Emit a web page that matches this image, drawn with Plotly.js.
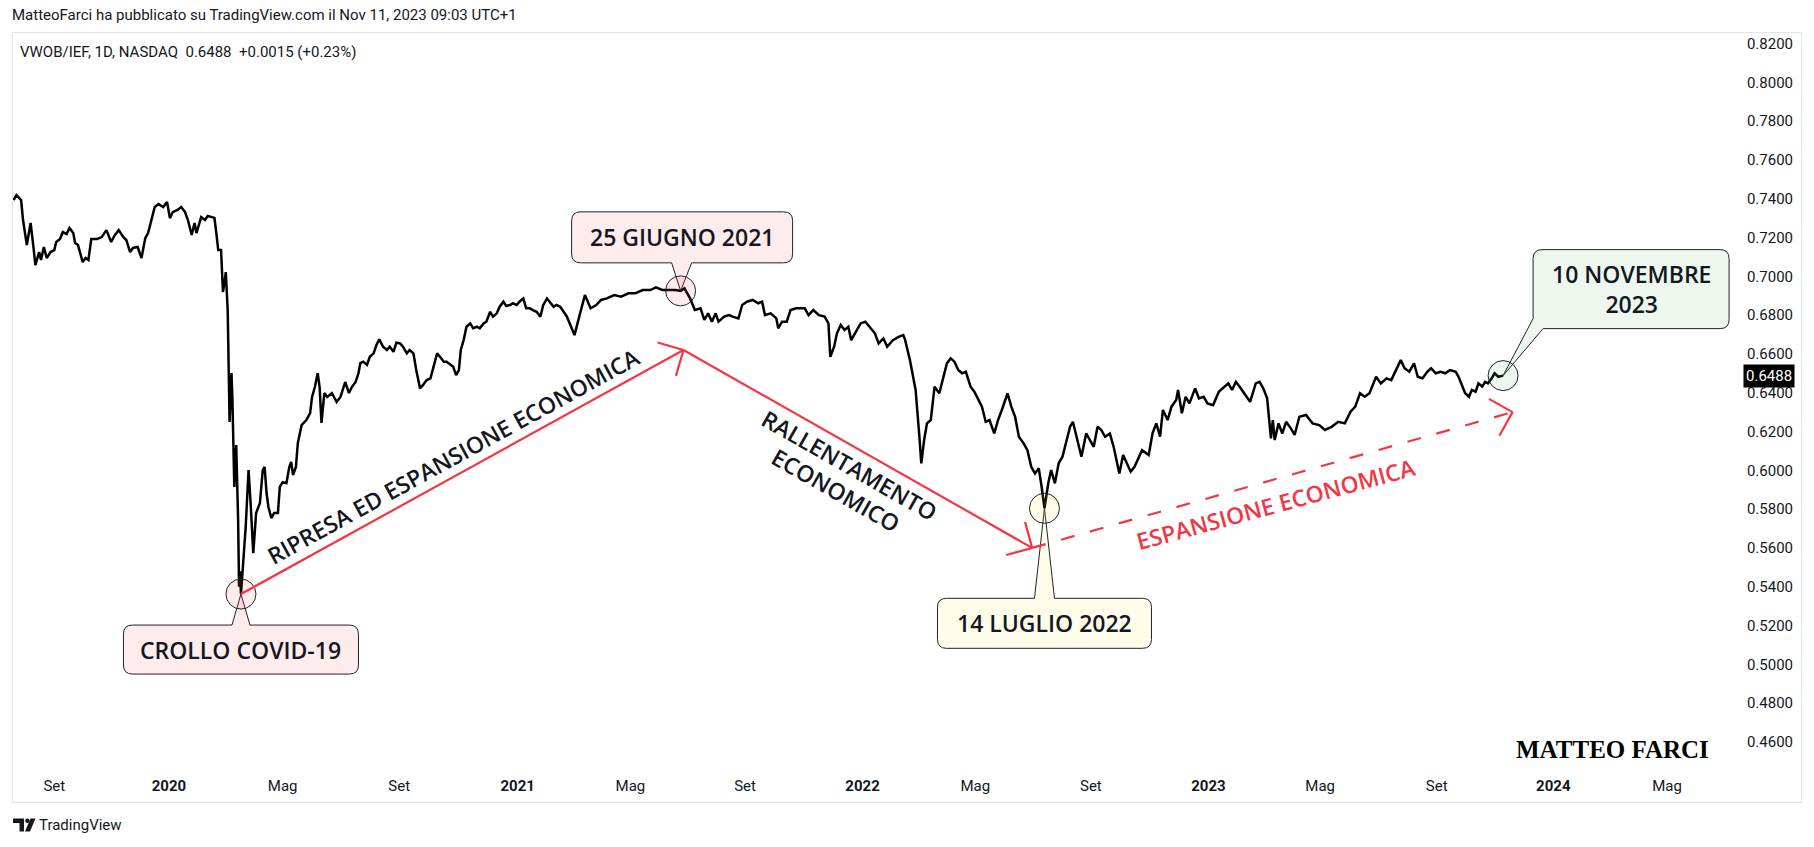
<!DOCTYPE html>
<html>
<head>
<meta charset="utf-8">
<script src="https://cdn.plot.ly/plotly-3.0.1.min.js"></script>
<style>
  html, body { margin: 0; padding: 0; background: #ffffff; }
  #chart { width: 1814px; height: 847px; }
</style>
</head>
<body>
<div id="chart"></div>
<script>
// VWOB/IEF daily ratio (sampled closes)
const closeSeries = [
  ['2019-07-22',0.7393],['2019-07-25',0.7419],['2019-07-30',0.7393],['2019-08-01',0.7290],['2019-08-05',0.7161],
  ['2019-08-09',0.7275],['2019-08-12',0.7151],['2019-08-14',0.7058],['2019-08-18',0.7125],['2019-08-20',0.7084],
  ['2019-08-23',0.7151],['2019-08-26',0.7094],['2019-08-30',0.7125],['2019-09-03',0.7135],['2019-09-05',0.7177],
  ['2019-09-09',0.7192],['2019-09-12',0.7228],['2019-09-16',0.7218],['2019-09-19',0.7249],['2019-09-23',0.7223],
  ['2019-09-25',0.7171],['2019-09-28',0.7161],['2019-10-03',0.7073],['2019-10-06',0.7094],['2019-10-09',0.7084],
  ['2019-10-12',0.7192],['2019-10-18',0.7192],['2019-10-23',0.7202],['2019-10-28',0.7238],['2019-11-02',0.7177],
  ['2019-11-06',0.7213],['2019-11-10',0.7238],['2019-11-15',0.7202],['2019-11-18',0.7187],['2019-11-22',0.7125],
  ['2019-11-25',0.7146],['2019-11-30',0.7151],['2019-12-04',0.7094],['2019-12-08',0.7197],['2019-12-11',0.7223],
  ['2019-12-15',0.7300],['2019-12-18',0.7357],['2019-12-22',0.7372],['2019-12-27',0.7357],['2019-12-31',0.7383],
  ['2020-01-03',0.7300],['2020-01-06',0.7331],['2020-01-11',0.7342],['2020-01-15',0.7357],['2020-01-19',0.7331],
  ['2020-01-22',0.7290],['2020-01-26',0.7213],['2020-01-29',0.7275],['2020-01-31',0.7223],['2020-02-05',0.7305],
  ['2020-02-09',0.7290],['2020-02-12',0.7311],['2020-02-17',0.7305],['2020-02-19',0.7301],['2020-02-21',0.7223],
  ['2020-02-23',0.7135],['2020-02-26',0.7135],['2020-02-28',0.6919],['2020-03-01',0.6981],['2020-03-02',0.7022],
  ['2020-03-04',0.6826],['2020-03-06',0.6249],['2020-03-08',0.6501],['2020-03-09',0.6362],['2020-03-11',0.5914],
  ['2020-03-13',0.6130],['2020-03-15',0.5744],['2020-03-16',0.5400],['2020-03-17',0.5480],['2020-03-18',0.5362],
  ['2020-03-23',0.5708],['2020-03-26',0.6001],['2020-03-28',0.5847],['2020-03-31',0.5573],['2020-04-03',0.5780],
  ['2020-04-07',0.5831],['2020-04-10',0.6001],['2020-04-12',0.6017],['2020-04-14',0.5883],['2020-04-16',0.5811],
  ['2020-04-19',0.5754],['2020-04-22',0.5780],['2020-04-26',0.5780],['2020-04-28',0.5914],['2020-05-01',0.5939],
  ['2020-05-05',0.5934],['2020-05-08',0.6017],['2020-05-10',0.6043],['2020-05-12',0.5976],['2020-05-15',0.6017],
  ['2020-05-17',0.6140],['2020-05-21',0.6233],['2020-05-26',0.6259],['2020-05-30',0.6295],['2020-06-01',0.6378],
  ['2020-06-04',0.6429],['2020-06-07',0.6501],['2020-06-09',0.6429],['2020-06-11',0.6244],['2020-06-14',0.6398],
  ['2020-06-17',0.6378],['2020-06-22',0.6398],['2020-06-27',0.6352],['2020-07-01',0.6378],['2020-07-06',0.6455],
  ['2020-07-10',0.6398],['2020-07-13',0.6429],['2020-07-17',0.6455],['2020-07-20',0.6501],['2020-07-22',0.6553],
  ['2020-07-25',0.6560],['2020-07-29',0.6543],['2020-08-01',0.6585],['2020-08-05',0.6603],['2020-08-08',0.6646],
  ['2020-08-11',0.6675],['2020-08-15',0.6637],['2020-08-19',0.6620],['2020-08-22',0.6637],['2020-08-26',0.6611],
  ['2020-08-29',0.6658],['2020-09-02',0.6654],['2020-09-05',0.6637],['2020-09-09',0.6603],['2020-09-12',0.6620],
  ['2020-09-16',0.6603],['2020-09-19',0.6517],['2020-09-23',0.6422],['2020-09-26',0.6439],['2020-09-30',0.6465],
  ['2020-10-04',0.6474],['2020-10-07',0.6526],['2020-10-11',0.6603],['2020-10-14',0.6585],['2020-10-18',0.6560],
  ['2020-10-21',0.6560],['2020-10-25',0.6543],['2020-10-28',0.6534],['2020-10-31',0.6491],['2020-11-03',0.6517],
  ['2020-11-05',0.6620],['2020-11-08',0.6671],['2020-11-11',0.6740],['2020-11-15',0.6757],['2020-11-18',0.6732],
  ['2020-11-22',0.6740],['2020-11-25',0.6732],['2020-11-29',0.6757],['2020-12-02',0.6766],['2020-12-06',0.6817],
  ['2020-12-09',0.6792],['2020-12-13',0.6809],['2020-12-16',0.6843],['2020-12-20',0.6869],['2020-12-23',0.6847],
  ['2020-12-27',0.6852],['2020-12-30',0.6861],['2021-01-03',0.6852],['2021-01-06',0.6869],['2021-01-10',0.6886],
  ['2021-01-13',0.6835],['2021-01-17',0.6835],['2021-01-20',0.6826],['2021-01-24',0.6817],['2021-01-28',0.6792],
  ['2021-01-31',0.6852],['2021-02-04',0.6886],['2021-02-07',0.6869],['2021-02-11',0.6843],['2021-02-14',0.6852],
  ['2021-02-18',0.6843],['2021-02-25',0.6792],['2021-03-05',0.6697],['2021-03-10',0.6792],['2021-03-16',0.6903],
  ['2021-03-22',0.6835],['2021-03-28',0.6852],['2021-04-02',0.6878],['2021-04-08',0.6886],['2021-04-16',0.6903],
  ['2021-04-23',0.6895],['2021-05-01',0.6912],['2021-05-08',0.6912],['2021-05-16',0.6929],['2021-05-24',0.6929],
  ['2021-05-30',0.6943],['2021-06-06',0.6929],['2021-06-13',0.6929],['2021-06-19',0.6929],['2021-06-25',0.6925],
  ['2021-06-29',0.6938],['2021-07-05',0.6886],['2021-07-10',0.6826],['2021-07-16',0.6835],['2021-07-20',0.6775],
  ['2021-07-24',0.6809],['2021-07-28',0.6766],['2021-08-01',0.6809],['2021-08-04',0.6766],['2021-08-10',0.6792],
  ['2021-08-15',0.6800],['2021-08-19',0.6792],['2021-08-25',0.6783],['2021-08-29',0.6852],['2021-09-03',0.6869],
  ['2021-09-09',0.6878],['2021-09-15',0.6861],['2021-09-19',0.6869],['2021-09-22',0.6800],['2021-09-28',0.6809],
  ['2021-10-04',0.6783],['2021-10-06',0.6732],['2021-10-10',0.6766],['2021-10-15',0.6766],['2021-10-19',0.6826],
  ['2021-10-25',0.6835],['2021-10-31',0.6835],['2021-11-03',0.6835],['2021-11-07',0.6800],['2021-11-12',0.6826],
  ['2021-11-18',0.6800],['2021-11-24',0.6792],['2021-11-28',0.6757],['2021-11-30',0.6585],['2021-12-04',0.6637],
  ['2021-12-07',0.6706],['2021-12-11',0.6749],['2021-12-15',0.6723],['2021-12-19',0.6740],['2021-12-22',0.6671],
  ['2021-12-26',0.6706],['2022-01-01',0.6757],['2022-01-06',0.6766],['2022-01-10',0.6740],['2022-01-16',0.6706],
  ['2022-01-20',0.6654],['2022-01-25',0.6680],['2022-01-29',0.6637],['2022-02-04',0.6671],['2022-02-10',0.6688],
  ['2022-02-15',0.6697],['2022-02-17',0.6671],['2022-02-22',0.6568],['2022-02-26',0.6465],['2022-02-28',0.6414],
  ['2022-03-04',0.6173],['2022-03-06',0.6036],['2022-03-09',0.6156],['2022-03-12',0.6242],['2022-03-16',0.6259],
  ['2022-03-18',0.6362],['2022-03-20',0.6431],['2022-03-25',0.6397],['2022-03-29',0.6482],['2022-04-02',0.6551],
  ['2022-04-06',0.6577],['2022-04-10',0.6560],['2022-04-14',0.6517],['2022-04-18',0.6500],['2022-04-22',0.6508],
  ['2022-04-27',0.6431],['2022-05-01',0.6405],['2022-05-05',0.6362],['2022-05-09',0.6328],['2022-05-13',0.6250],
  ['2022-05-17',0.6259],['2022-05-22',0.6190],['2022-05-26',0.6259],['2022-05-30',0.6311],['2022-06-03',0.6362],
  ['2022-06-05',0.6397],['2022-06-09',0.6328],['2022-06-13',0.6276],['2022-06-17',0.6173],['2022-06-22',0.6139],
  ['2022-06-26',0.6104],['2022-06-30',0.6018],['2022-07-04',0.5984],['2022-07-08',0.6010],['2022-07-11',0.5915],
  ['2022-07-14',0.5804],['2022-07-18',0.5933],['2022-07-21',0.6001],['2022-07-25',0.5933],['2022-07-29',0.6036],
  ['2022-08-02',0.6070],['2022-08-06',0.6156],['2022-08-10',0.6225],['2022-08-13',0.6250],['2022-08-17',0.6173],
  ['2022-08-22',0.6070],['2022-08-27',0.6190],['2022-08-31',0.6156],['2022-09-04',0.6121],['2022-09-08',0.6225],
  ['2022-09-12',0.6208],['2022-09-16',0.6173],['2022-09-21',0.6190],['2022-09-25',0.6121],['2022-09-29',0.6018],
  ['2022-10-01',0.5984],['2022-10-05',0.6079],['2022-10-09',0.6036],['2022-10-13',0.5993],['2022-10-17',0.6018],
  ['2022-10-21',0.6062],['2022-10-25',0.6104],['2022-11-01',0.6079],['2022-11-05',0.6190],['2022-11-09',0.6242],
  ['2022-11-13',0.6173],['2022-11-16',0.6311],['2022-11-21',0.6259],['2022-11-25',0.6328],['2022-11-30',0.6362],
  ['2022-12-02',0.6414],['2022-12-06',0.6294],['2022-12-10',0.6379],['2022-12-14',0.6345],['2022-12-20',0.6422],
  ['2022-12-24',0.6371],['2022-12-29',0.6379],['2023-01-02',0.6345],['2023-01-08',0.6336],['2023-01-14',0.6405],
  ['2023-01-20',0.6431],['2023-01-24',0.6448],['2023-01-28',0.6414],['2023-02-01',0.6456],['2023-02-05',0.6431],
  ['2023-02-09',0.6405],['2023-02-16',0.6353],['2023-02-22',0.6448],['2023-02-26',0.6456],['2023-03-02',0.6422],
  ['2023-03-06',0.6371],['2023-03-10',0.6165],['2023-03-12',0.6259],['2023-03-14',0.6156],['2023-03-18',0.6242],
  ['2023-03-22',0.6190],['2023-03-26',0.6250],['2023-03-31',0.6216],['2023-04-04',0.6182],['2023-04-09',0.6276],
  ['2023-04-16',0.6285],['2023-04-23',0.6242],['2023-04-30',0.6233],['2023-05-06',0.6208],['2023-05-13',0.6224],
  ['2023-05-20',0.6250],['2023-05-27',0.6242],['2023-06-02',0.6302],['2023-06-07',0.6328],['2023-06-12',0.6397],
  ['2023-06-17',0.6379],['2023-06-22',0.6397],['2023-06-29',0.6482],['2023-07-04',0.6448],['2023-07-10',0.6474],
  ['2023-07-15',0.6465],['2023-07-20',0.6517],['2023-07-25',0.6568],['2023-07-29',0.6526],['2023-08-03',0.6508],
  ['2023-08-08',0.6551],['2023-08-12',0.6482],['2023-08-17',0.6474],['2023-08-22',0.6508],['2023-08-26',0.6526],
  ['2023-08-31',0.6500],['2023-09-05',0.6508],['2023-09-10',0.6500],['2023-09-15',0.6517],['2023-09-21',0.6508],
  ['2023-09-24',0.6482],['2023-09-28',0.6431],['2023-10-01',0.6397],['2023-10-05',0.6379],['2023-10-08',0.6414],
  ['2023-10-12',0.6405],['2023-10-15',0.6448],['2023-10-19',0.6431],['2023-10-22',0.6456],['2023-10-25',0.6448],
  ['2023-10-29',0.6474],['2023-11-01',0.6500],['2023-11-05',0.6482],['2023-11-10',0.6488]
];

// Legend values
const symbolName = 'VWOB/IEF, 1D, NASDAQ';
const lastClose = 0.6488;
const lastChange = 0.0015;
const lastChangePct = 0.23;

// Time scale labels
const timeTickDates = ['2019-09-03','2020-01-02','2020-05-01','2020-09-01','2021-01-04','2021-05-03','2021-09-01',
  '2022-01-03','2022-05-02','2022-09-01','2023-01-03','2023-05-01','2023-09-01','2024-01-02','2024-05-01'];
const timeTickLabels = ['Set','2020','Mag','Set','2021','Mag','Set','2022','Mag','Set','2023','Mag','Set','2024','Mag'];

// Price scale labels
const priceTicks = [0.46,0.48,0.50,0.52,0.54,0.56,0.58,0.60,0.62,0.64,0.66,0.68,0.70,0.72,0.74,0.76,0.78,0.80,0.82];

// Marked dates
const eventDates = ['2020-03-18','2021-06-25','2022-07-14','2023-11-10'];
const eventLabels = ['CROLLO COVID-19','25 GIUGNO 2021','14 LUGLIO 2022','10 NOVEMBRE<br>2023'];

const dates = closeSeries.map(p => p[0]);
const closes = closeSeries.map(p => p[1]);
const closeOn = d => closes[dates.indexOf(d)];

const UI_FONT = 'Roboto, "Liberation Sans", Arial, sans-serif';
const NOTE_FONT = '"Open Sans", "Noto Sans", "DejaVu Sans", sans-serif';
const NOTE_SIZE = 23;
const NOTE_WEIGHT = 600;
const INK = '#131722';
const RED = '#f23645';

// page layout in pixels
const W = 1814, H = 847;
const M = {l: 13, r: 13, t: 33, b: 45};
const PW = W - M.l - M.r, PH = H - M.t - M.b;
const paperX = px => (px - M.l) / PW;
const paperY = py => 1 - (py - M.t) / PH;

// ---- callout geometry (pixel offsets from the anchored point, screen y down) ----
const R = 9;
const pt = (x, y) => x + ',' + (-y);
function boxTailTop(l, t, rr, b, ta, tb) {
  return 'M' + pt(ta, t) + ' L' + pt(0, 0) + ' L' + pt(tb, t) +
    ' L' + pt(rr - R, t) + ' Q' + pt(rr, t) + ' ' + pt(rr, t + R) +
    ' L' + pt(rr, b - R) + ' Q' + pt(rr, b) + ' ' + pt(rr - R, b) +
    ' L' + pt(l + R, b) + ' Q' + pt(l, b) + ' ' + pt(l, b - R) +
    ' L' + pt(l, t + R) + ' Q' + pt(l, t) + ' ' + pt(l + R, t) + ' Z';
}
function boxTailBottom(l, t, rr, b, ta, tb) {
  return 'M' + pt(ta, b) + ' L' + pt(0, 0) + ' L' + pt(tb, b) +
    ' L' + pt(rr - R, b) + ' Q' + pt(rr, b) + ' ' + pt(rr, b - R) +
    ' L' + pt(rr, t + R) + ' Q' + pt(rr, t) + ' ' + pt(rr - R, t) +
    ' L' + pt(l + R, t) + ' Q' + pt(l, t) + ' ' + pt(l, t + R) +
    ' L' + pt(l, b - R) + ' Q' + pt(l, b) + ' ' + pt(l + R, b) + ' Z';
}
function boxTailCorner(l, t, rr, b, ly, bx) {
  return 'M' + pt(l, ly) + ' L' + pt(0, 0) + ' L' + pt(bx, b) +
    ' L' + pt(rr - R, b) + ' Q' + pt(rr, b) + ' ' + pt(rr, b - R) +
    ' L' + pt(rr, t + R) + ' Q' + pt(rr, t) + ' ' + pt(rr - R, t) +
    ' L' + pt(l + R, t) + ' Q' + pt(l, t) + ' ' + pt(l, t + R) + ' Z';
}

const PINK = 'rgba(242,54,69,0.10)';
const CREAM = 'rgba(255,222,40,0.10)';
const MINT = 'rgba(76,175,80,0.10)';
const EDGE = '#1e222d';

const callouts = [
  {date: eventDates[0], label: eventLabels[0], fill: PINK,
   path: boxTailTop(-117.5, 31, 117.5, 80, -9, 9), dx: 0, dy: 55.5},
  {date: eventDates[1], label: eventLabels[1], fill: PINK,
   path: boxTailBottom(-109, -79, 112, -28, -9, 11), dx: 1.5, dy: -53.5},
  {date: eventDates[2], label: eventLabels[2], fill: CREAM,
   path: boxTailTop(-107, 90, 107, 140, -10, 10), dx: 0, dy: 115},
  {date: eventDates[3], label: eventLabels[3], fill: MINT,
   path: boxTailCorner(30, -126, 226, -47, -57, 40), dx: 128, dy: -87}
];

const shapes = [];
const annotations = [];

callouts.forEach(c => {
  const v = closeOn(c.date);
  shapes.push({type: 'path', xref: 'x', yref: 'y', xsizemode: 'pixel', ysizemode: 'pixel',
    xanchor: c.date, yanchor: v, path: c.path, fillcolor: c.fill,
    line: {color: EDGE, width: 1}, layer: 'above'});
  shapes.push({type: 'circle', xref: 'x', yref: 'y', xsizemode: 'pixel', ysizemode: 'pixel',
    xanchor: c.date, yanchor: v, x0: -15, x1: 15, y0: -15, y1: 15, fillcolor: c.fill,
    line: {color: EDGE, width: 1}, layer: 'above'});
  annotations.push({
    xref: 'x', yref: 'y', x: c.date, y: v, xshift: c.dx, yshift: -c.dy,
    xanchor: 'center', yanchor: 'middle', align: 'center', showarrow: false, text: c.label,
    font: {family: NOTE_FONT, size: NOTE_SIZE, color: INK, weight: NOTE_WEIGHT}
  });
});

// ---- trend arrows ----
const covidLow = {x: eventDates[0], y: closeOn(eventDates[0])};
const turnTop = {x: '2021-06-28', y: 0.6620};
const turnLow = {x: '2022-07-01', y: 0.5600};
const targetEnd = {x: '2023-11-20', y: 0.6300};

function seg(a, b, dash) {
  shapes.push({type: 'line', xref: 'x', yref: 'y', x0: a.x, y0: a.y, x1: b.x, y1: b.y,
    line: {color: RED, width: 2.2, dash: dash || 'solid'}, layer: 'above'});
}
function head(tip, wings) {
  wings.forEach(w => shapes.push({type: 'line', xref: 'x', yref: 'y', xsizemode: 'pixel', ysizemode: 'pixel',
    xanchor: tip.x, yanchor: tip.y, x0: 0, y0: 0, x1: w[0], y1: w[1],
    line: {color: RED, width: 2.2}, layer: 'above'}));
}
seg(covidLow, turnTop);
head(turnTop, [[-25.9, 7.5], [-7.5, -25.9]]);
seg(turnTop, turnLow);
head(turnLow, [[-7.1, 26], [-26, -7.1]]);
seg(turnLow, targetEnd, '14px,16px');
head(targetEnd, [[-23.6, 13.2], [-13.2, -23.6]]);

const arrowText = (x, y, text, angle, color) => annotations.push({
  xref: 'x', yref: 'y', x: x, y: y, text: text, textangle: angle, showarrow: false,
  xanchor: 'center', yanchor: 'middle',
  font: {family: NOTE_FONT, size: NOTE_SIZE, color: color, weight: NOTE_WEIGHT}
});
arrowText('2020-10-28', 0.6075, 'RIPRESA ED ESPANSIONE ECONOMICA', -28.8, INK);
arrowText('2021-12-20', 0.6027, 'RALLENTAMENTO', 29.7, INK);
arrowText('2021-12-06', 0.5901, 'ECONOMICO', 29.7, INK);
arrowText('2023-03-15', 0.5825, 'ESPANSIONE ECONOMICA', -15.2, RED);

// ---- header, legend, watermark, footer ----
annotations.push({xref: 'paper', yref: 'paper', x: paperX(10), y: paperY(15), xanchor: 'left', yanchor: 'middle',
  showarrow: false, text: 'MatteoFarci ha pubblicato su TradingView.com il Nov 11, 2023 09:03 UTC+1',
  font: {family: UI_FONT, size: 15, color: INK}});
const sign = v => (v >= 0 ? '+' : '');
annotations.push({xref: 'paper', yref: 'paper', x: paperX(18), y: paperY(52), xanchor: 'left', yanchor: 'middle',
  showarrow: false,
  text: symbolName + '\u00a0\u00a0' + lastClose.toFixed(4) + '\u00a0\u00a0' + sign(lastChange) + lastChange.toFixed(4) +
        ' (' + sign(lastChangePct) + lastChangePct.toFixed(2) + '%)',
  font: {family: UI_FONT, size: 15, color: INK}});
annotations.push({xref: 'paper', yref: 'paper', x: paperX(1612), y: paperY(749), xanchor: 'center', yanchor: 'middle',
  showarrow: false, text: 'MATTEO FARCI',
  font: {family: '"Liberation Serif", "DejaVu Serif", serif', size: 25, color: '#000000', weight: 'bold'}});
annotations.push({xref: 'paper', yref: 'y', x: 1, y: lastClose, xanchor: 'right', yanchor: 'middle', xshift: -6,
  showarrow: false, text: lastClose.toFixed(4), bgcolor: '#000000', borderpad: 2,
  font: {family: UI_FONT, size: 15, color: '#ffffff'}});
annotations.push({xref: 'paper', yref: 'paper', x: paperX(37), y: paperY(825), xanchor: 'left', yanchor: 'middle',
  showarrow: false, text: 'TradingView', font: {family: UI_FONT, size: 15, color: INK}});

// small brand mark next to the footer text
const pp = (x, y) => paperX(x).toFixed(5) + ',' + paperY(y).toFixed(5);
shapes.push({type: 'path', xref: 'paper', yref: 'paper', fillcolor: INK, line: {width: 0},
  path: 'M' + pp(13, 818.5) + ' L' + pp(24, 818.5) + ' L' + pp(24, 831.5) + ' L' + pp(19.5, 831.5) +
        ' L' + pp(19.5, 823) + ' L' + pp(13, 823) + ' Z'});
shapes.push({type: 'path', xref: 'paper', yref: 'paper', fillcolor: INK, line: {width: 0},
  path: 'M' + pp(30.5, 818.5) + ' L' + pp(35.5, 818.5) + ' L' + pp(30, 831.5) + ' L' + pp(25, 831.5) + ' Z'});
shapes.push({type: 'circle', xref: 'paper', yref: 'paper', fillcolor: INK, line: {width: 0},
  x0: paperX(25.2), x1: paperX(29.6), y0: paperY(818.5), y1: paperY(822.9)});

const trace = {
  type: 'scatter', mode: 'lines', x: dates, y: closes,
  line: {color: '#000000', width: 2.5}, hoverinfo: 'skip'
};

const layout = {
  width: W, height: H,
  margin: {l: M.l, r: M.r, t: M.t, b: M.b, pad: 0},
  paper_bgcolor: '#ffffff', plot_bgcolor: '#ffffff',
  showlegend: false, hovermode: false,
  font: {family: UI_FONT, size: 15, color: INK},
  xaxis: {
    type: 'date', range: ['2019-07-21 10:00', '2024-09-19 10:00'],
    showgrid: false, zeroline: false, showline: true, mirror: true,
    linecolor: '#e0e3eb', linewidth: 1,
    tickmode: 'array', tickvals: timeTickDates,
    ticktext: timeTickLabels.map(l => /^\d{4}$/.test(l) ? '<b>' + l + '</b>' : l),
    ticks: '', ticklabelposition: 'inside', ticklabelstandoff: 8,
    tickfont: {family: UI_FONT, size: 15, color: INK}, fixedrange: true
  },
  yaxis: {
    side: 'right', range: [0.42902, 0.82541],
    showgrid: false, zeroline: false, showline: true, mirror: true,
    linecolor: '#e0e3eb', linewidth: 1,
    tickmode: 'array', tickvals: priceTicks, tickformat: '.4f',
    ticks: '', ticklabelposition: 'inside', ticklabelstandoff: 8,
    tickfont: {family: UI_FONT, size: 15, color: INK}, fixedrange: true
  },
  shapes: shapes,
  annotations: annotations
};

Plotly.newPlot('chart', [trace], layout, {staticPlot: true, displayModeBar: false});
</script>
</body>
</html>
